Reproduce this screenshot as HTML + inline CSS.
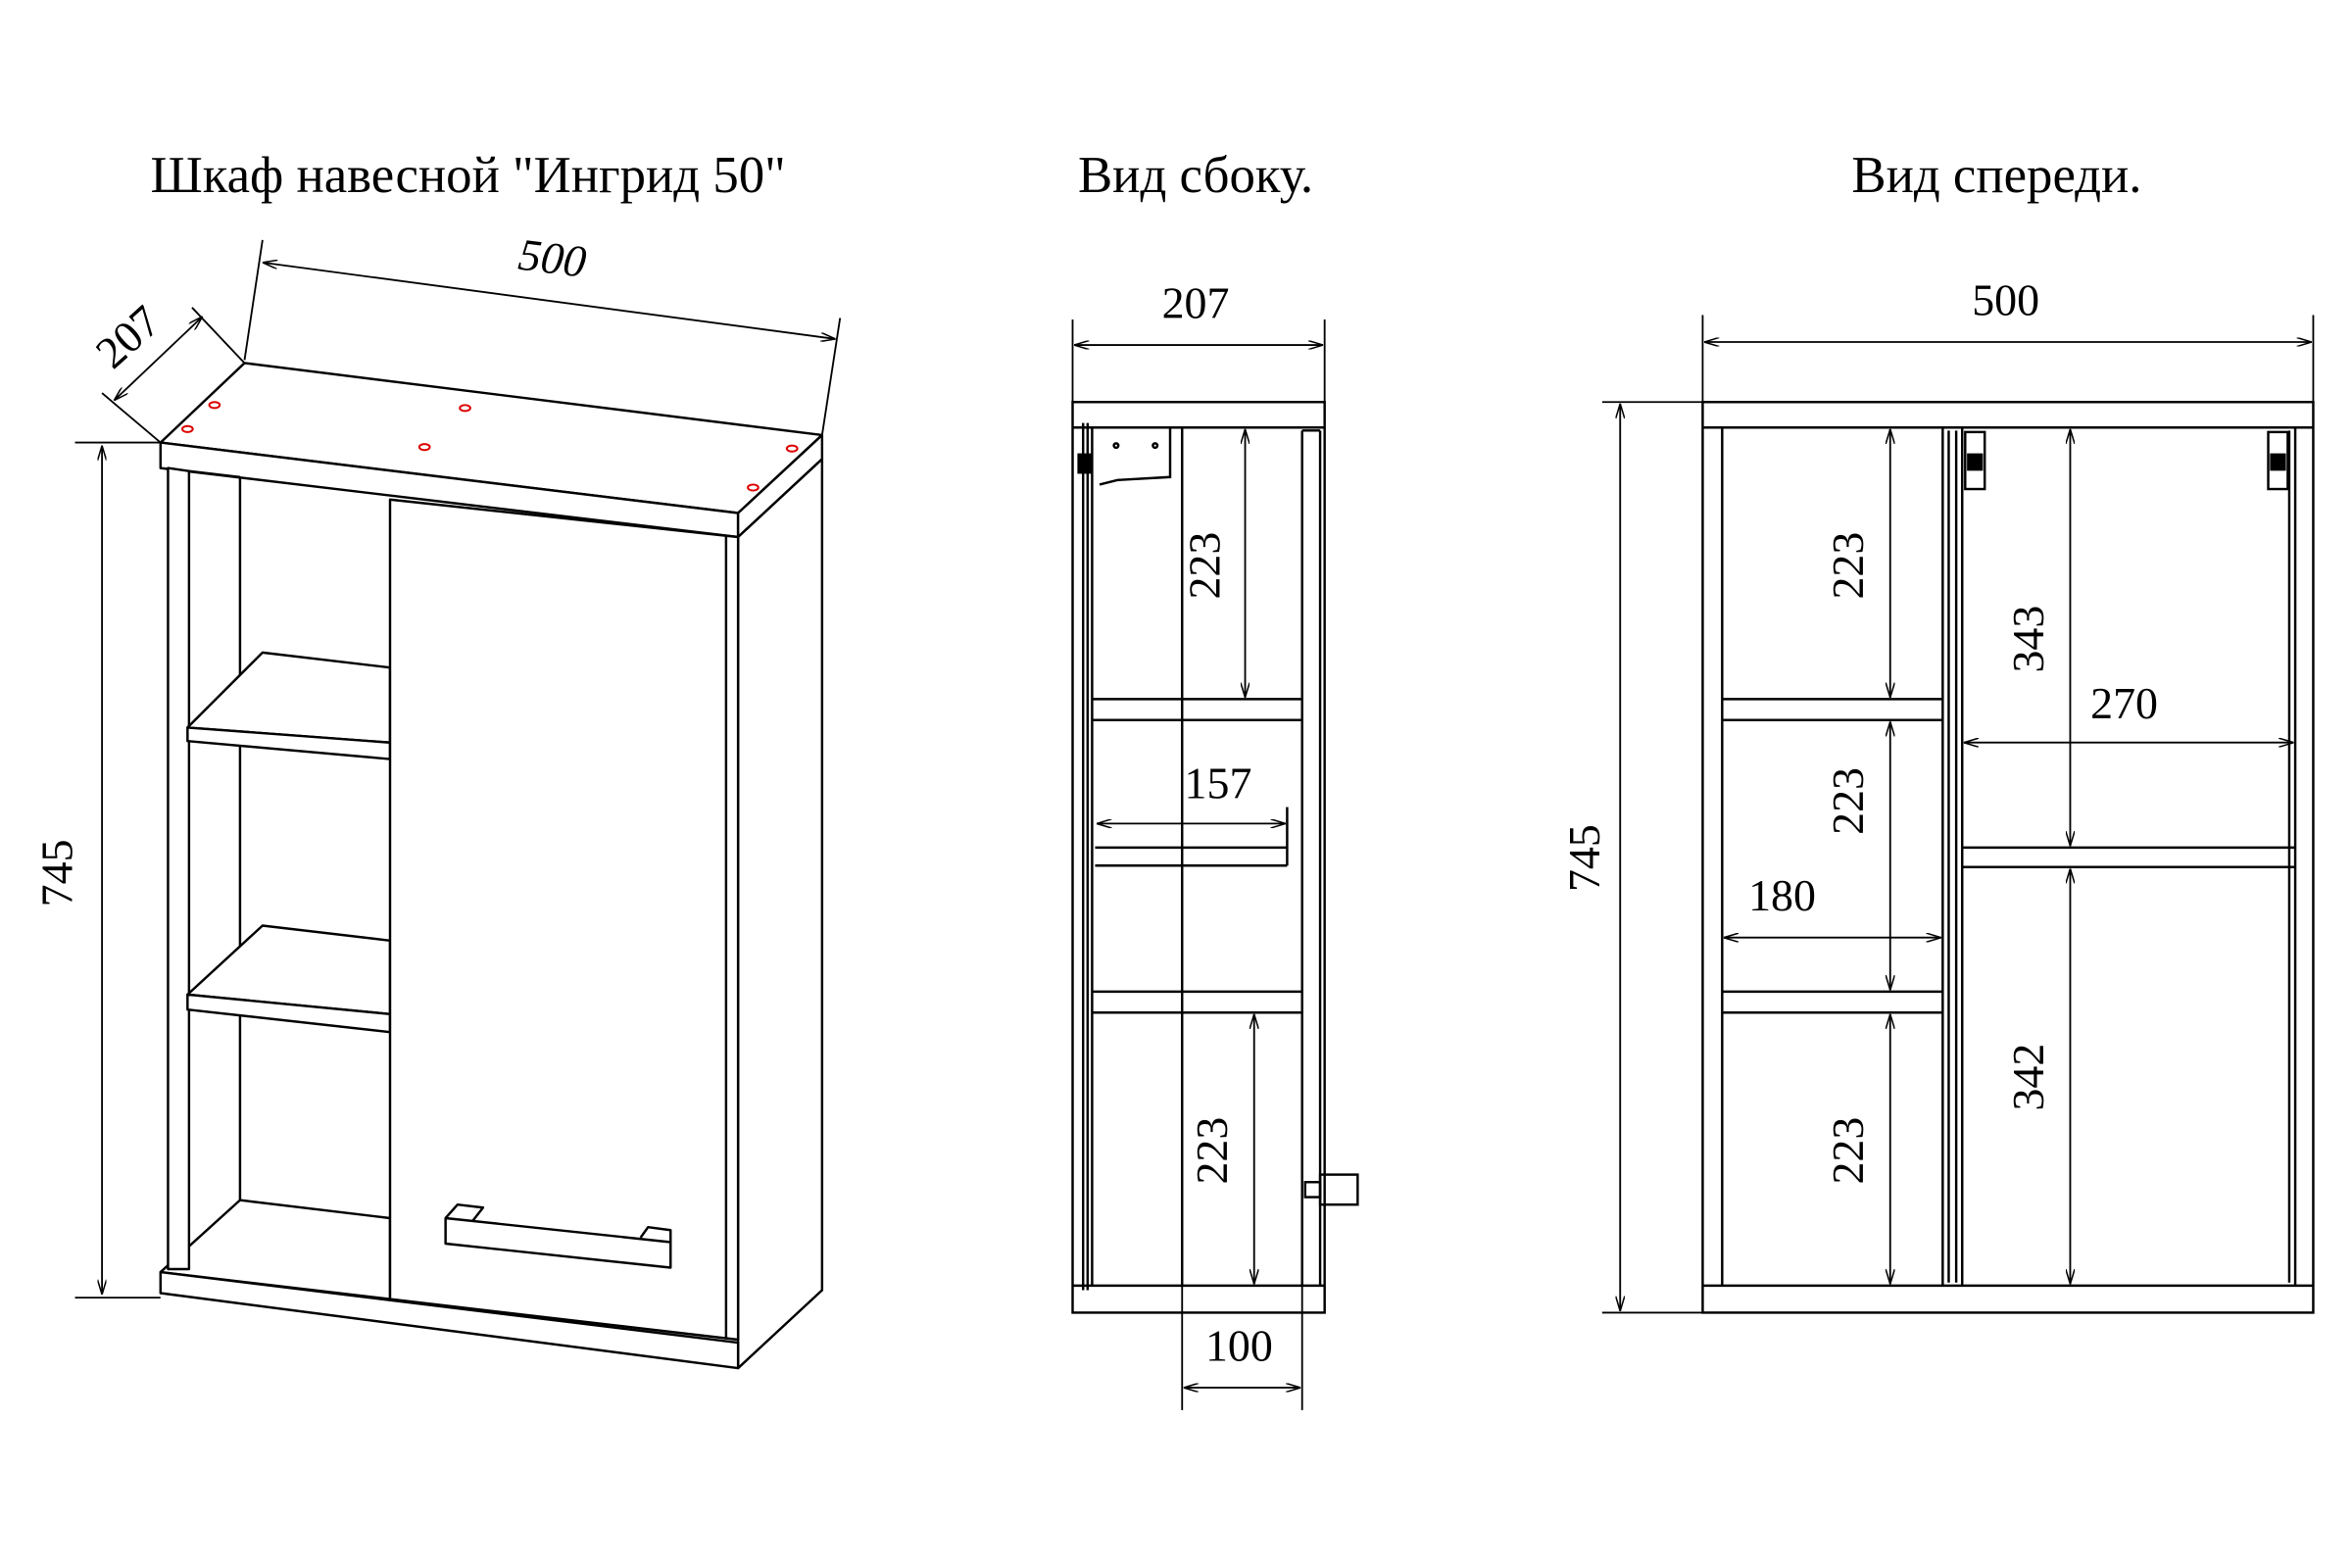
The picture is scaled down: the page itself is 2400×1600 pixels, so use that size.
<!DOCTYPE html>
<html><head><meta charset="utf-8"><style>
html,body{margin:0;padding:0;background:#fff;width:2400px;height:1600px;overflow:hidden}
svg{display:block}
text{font-family:"Liberation Serif",serif;fill:#000}
</style></head><body>
<svg width="2400" height="1600" viewBox="0 0 1560 1040" xmlns="http://www.w3.org/2000/svg">
<defs>
<marker id="a" viewBox="0 0 10 6" refX="10" refY="3" markerWidth="10" markerHeight="6" orient="auto-start-reverse" markerUnits="userSpaceOnUse"><path d="M0,0 L10,3 L0,6" fill="none" stroke="#000" stroke-width="1"/></marker>
</defs>
<g transform="scale(0.995)">
<text x="312" y="128" font-size="34.5" text-anchor="middle">Шкаф навесной "Ингрид 50"</text>
<text x="797" y="128" font-size="34.5" text-anchor="middle">Вид сбоку.</text>
<text x="1331" y="128" font-size="34.5" text-anchor="middle">Вид спереди.</text>

<g stroke="#000" fill="#fff" stroke-width="1.6" stroke-linejoin="round">
<polygon points="107,295 163,242 548,290 492,342"/>
<polygon points="107,295 492,342 492,358 107,312"/>
<polygon points="492,342 548,290 548,306 492,358"/>
<polygon points="492,358 548,306 548,860 492,912"/>
<polygon points="107,848 160,800 260,812 260,866 107,848"/>
<polygon points="107,848 492,895 492,912 107,862"/>
<polygon points="112,312 126,314 126,846 112,846"/>
<line x1="126" y1="314" x2="160" y2="318"/>
<line x1="160" y1="318" x2="160" y2="800"/>
<polygon points="125,485 175,435 260,445 260,495"/>
<polygon points="125,485 260,495 260,506 125,494"/>
<polygon points="125,663 175,617 260,627 260,676"/>
<polygon points="125,663 260,676 260,688 125,673"/>
<polygon points="260,333 492,358 492,893 260,866"/>
<polyline points="484,357 484,892" fill="none"/>
<polygon points="297,812 447,828 447,845 297,829"/>
<polyline points="297,812 305,803 322,805 315,814" fill="none"/>
<polyline points="427,825 432,818 447,820 447,828" fill="none"/>
</g>
<g fill="none" stroke="#d00" stroke-width="1.3">
<ellipse cx="143" cy="270" rx="3.5" ry="2"/><ellipse cx="310" cy="272" rx="3.5" ry="2"/>
<ellipse cx="125" cy="286" rx="3.5" ry="2"/><ellipse cx="283" cy="298" rx="3.5" ry="2"/>
<ellipse cx="528" cy="299" rx="3.5" ry="2"/><ellipse cx="502" cy="325" rx="3.5" ry="2"/>
</g>
<g stroke="#000" stroke-width="1.2" fill="none">
<line x1="175" y1="160" x2="163" y2="240"/><line x1="560" y1="212" x2="548" y2="290"/>
<line x1="175" y1="175" x2="557" y2="226" marker-start="url(#a)" marker-end="url(#a)"/>
<line x1="107" y1="295" x2="68" y2="262"/><line x1="163" y1="242" x2="128" y2="205"/>
<line x1="76" y1="267" x2="135" y2="211" marker-start="url(#a)" marker-end="url(#a)"/>
<line x1="50" y1="295" x2="107" y2="295"/><line x1="50" y1="865" x2="107" y2="865"/>
<line x1="68" y1="297" x2="68" y2="863" marker-start="url(#a)" marker-end="url(#a)"/>
</g>
<text x="367" y="182" font-size="30" font-style="italic" text-anchor="middle" transform="rotate(7 367 182)">500</text>
<text x="92" y="232" font-size="30" text-anchor="middle" transform="rotate(-42 92 232)">207</text>
<text x="48" y="582" font-size="30" text-anchor="middle" transform="rotate(-90 48 582)">745</text>

<g stroke="#000" stroke-width="1.6" fill="none">
<rect x="715" y="268" width="168" height="607"/>
<line x1="715" y1="285" x2="883" y2="285"/>
<line x1="715" y1="857" x2="883" y2="857"/>
<line x1="728" y1="285" x2="728" y2="857"/>
<line x1="868" y1="287" x2="868" y2="857"/><line x1="880" y1="287" x2="880" y2="857"/>
<line x1="868" y1="287" x2="880" y2="287"/>
<line x1="722" y1="282" x2="722" y2="860"/><line x1="725" y1="282" x2="725" y2="860"/>
<line x1="728" y1="466" x2="868" y2="466"/><line x1="728" y1="480" x2="868" y2="480"/>
<line x1="728" y1="661" x2="868" y2="661"/><line x1="728" y1="675" x2="868" y2="675"/>
<line x1="788" y1="285" x2="788" y2="857"/>
<polyline points="730,285 780,285 780,318 745,320 733,323"/>
<rect x="719" y="303" width="8" height="12" fill="#000"/>
<circle cx="744" cy="297" r="1.5"/><circle cx="770" cy="297" r="1.5"/>
<line x1="730" y1="565" x2="858" y2="565"/><line x1="730" y1="577" x2="858" y2="577"/>
<line x1="858" y1="538" x2="858" y2="577"/>
<rect x="870" y="788" width="10" height="10"/><rect x="880" y="783" width="25" height="20"/>
</g>
<g stroke="#000" stroke-width="1.2" fill="none">
<line x1="715" y1="213" x2="715" y2="268"/><line x1="883" y1="213" x2="883" y2="268"/>
<line x1="716" y1="230" x2="882" y2="230" marker-start="url(#a)" marker-end="url(#a)"/>
<line x1="830" y1="286" x2="830" y2="465" marker-start="url(#a)" marker-end="url(#a)"/>
<line x1="731" y1="549" x2="857" y2="549" marker-start="url(#a)" marker-end="url(#a)"/>
<line x1="836" y1="676" x2="836" y2="856" marker-start="url(#a)" marker-end="url(#a)"/>
<line x1="788" y1="857" x2="788" y2="940"/><line x1="868" y1="857" x2="868" y2="940"/>
<line x1="789" y1="925" x2="867" y2="925" marker-start="url(#a)" marker-end="url(#a)"/>
</g>
<text x="797" y="212" font-size="30" text-anchor="middle">207</text>
<text x="813" y="377" font-size="30" text-anchor="middle" transform="rotate(-90 813 377)">223</text>
<text x="812" y="532" font-size="30" text-anchor="middle">157</text>
<text x="818" y="767" font-size="30" text-anchor="middle" transform="rotate(-90 818 767)">223</text>
<text x="826" y="907" font-size="30" text-anchor="middle">100</text>

<g stroke="#000" stroke-width="1.6" fill="none">
<rect x="1135" y="268" width="407" height="607"/>
<line x1="1135" y1="285" x2="1542" y2="285"/>
<line x1="1135" y1="857" x2="1542" y2="857"/>
<line x1="1148" y1="285" x2="1148" y2="857"/>
<line x1="1530" y1="285" x2="1530" y2="857"/>
<line x1="1295" y1="285" x2="1295" y2="857"/><line x1="1308" y1="285" x2="1308" y2="857"/>
<line x1="1299" y1="287" x2="1299" y2="855"/><line x1="1304" y1="287" x2="1304" y2="855"/>
<line x1="1526" y1="287" x2="1526" y2="855"/>
<line x1="1148" y1="466" x2="1295" y2="466"/><line x1="1148" y1="480" x2="1295" y2="480"/>
<line x1="1148" y1="661" x2="1295" y2="661"/><line x1="1148" y1="675" x2="1295" y2="675"/>
<line x1="1308" y1="565" x2="1530" y2="565"/><line x1="1308" y1="578" x2="1530" y2="578"/>
<rect x="1310" y="288" width="13" height="38"/><rect x="1512" y="288" width="13" height="38"/>
<rect x="1312" y="303" width="9" height="10" fill="#000"/><rect x="1514" y="303" width="9" height="10" fill="#000"/>
</g>
<g stroke="#000" stroke-width="1.2" fill="none">
<line x1="1135" y1="210" x2="1135" y2="268"/><line x1="1542" y1="210" x2="1542" y2="268"/>
<line x1="1136" y1="228" x2="1541" y2="228" marker-start="url(#a)" marker-end="url(#a)"/>
<line x1="1068" y1="268" x2="1135" y2="268"/><line x1="1068" y1="875" x2="1135" y2="875"/>
<line x1="1080" y1="269" x2="1080" y2="874" marker-start="url(#a)" marker-end="url(#a)"/>
<line x1="1260" y1="286" x2="1260" y2="465" marker-start="url(#a)" marker-end="url(#a)"/>
<line x1="1260" y1="481" x2="1260" y2="660" marker-start="url(#a)" marker-end="url(#a)"/>
<line x1="1260" y1="676" x2="1260" y2="856" marker-start="url(#a)" marker-end="url(#a)"/>
<line x1="1380" y1="286" x2="1380" y2="564" marker-start="url(#a)" marker-end="url(#a)"/>
<line x1="1380" y1="579" x2="1380" y2="856" marker-start="url(#a)" marker-end="url(#a)"/>
<line x1="1309" y1="495" x2="1529" y2="495" marker-start="url(#a)" marker-end="url(#a)"/>
<line x1="1149" y1="625" x2="1294" y2="625" marker-start="url(#a)" marker-end="url(#a)"/>
</g>
<text x="1337" y="210" font-size="30" text-anchor="middle">500</text>
<text x="1066" y="572" font-size="30" text-anchor="middle" transform="rotate(-90 1066 572)">745</text>
<text x="1242" y="377" font-size="30" text-anchor="middle" transform="rotate(-90 1242 377)">223</text>
<text x="1242" y="534" font-size="30" text-anchor="middle" transform="rotate(-90 1242 534)">223</text>
<text x="1242" y="767" font-size="30" text-anchor="middle" transform="rotate(-90 1242 767)">223</text>
<text x="1362" y="426" font-size="30" text-anchor="middle" transform="rotate(-90 1362 426)">343</text>
<text x="1362" y="718" font-size="30" text-anchor="middle" transform="rotate(-90 1362 718)">342</text>
<text x="1416" y="479" font-size="30" text-anchor="middle">270</text>
<text x="1188" y="607" font-size="30" text-anchor="middle">180</text>
</g>
</svg>
</body></html>
